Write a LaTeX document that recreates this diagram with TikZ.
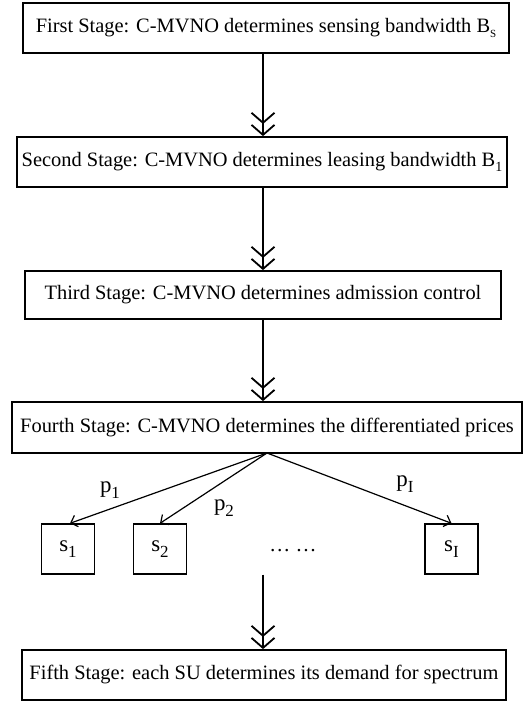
\documentclass[tikz,border=0pt]{standalone}
\usepackage{fontspec}
\setmainfont{Liberation Serif}
\usetikzlibrary{arrows.meta}
\newcommand{\mysub}[2][14]{\raisebox{-0.28em}{\fontsize{#1}{#1}\selectfont #2}}
\tikzset{
  stagebox/.style={draw, line width=1.8bp, minimum height=50bp, inner sep=0pt, font=\fontsize{20.5}{24}\selectfont},
  subbox/.style={draw, line width=1.4bp, minimum width=53bp, minimum height=50bp, inner sep=0pt, font=\fontsize{23}{26}\selectfont},
  dblarrow/.style={line width=1.8bp, -{Straight Barb[length=10bp,width=23bp,line width=1.8bp]Straight Barb[length=10bp,width=23bp,line width=1.8bp]}},
  pricearrow/.style={line width=1.2bp, -{Straight Barb[length=6bp,width=12bp,line width=1.2bp]}},
  plabel/.style={font=\fontsize{23}{26}\selectfont, inner sep=0pt}
}
\begin{document}
\begin{tikzpicture}[x=1bp,y=-1bp]
\useasboundingbox (0,0) rectangle (524,703);
\coordinate (ax) at (263,0);
\node[stagebox, minimum width=486bp] (b1) at (266,28) {First Stage: C-MVNO determines sensing bandwidth B\mysub[11]{S}};
\node[stagebox, minimum width=490bp] (b2) at (262,162) {Second Stage: C-MVNO determines leasing bandwidth B\mysub{1}};
\node[stagebox, minimum width=476bp, minimum height=48bp] (b3) at (263,295) {Third Stage: C-MVNO determines admission control};
\node[stagebox, minimum width=510bp, minimum height=51bp] (b4) at (267,427.5) {Fourth Stage: C-MVNO determines the differentiated prices};
\node[stagebox, minimum width=484bp] (b5) at (264,675) {Fifth Stage: each SU determines its demand for spectrum};
\node[subbox] (s1) at (68,549) {s\mysub[17]{1}};
\node[subbox] (s2) at (160,549) {s\mysub[17]{2}};
\node[subbox] (sI) at (451.5,549) {s\mysub[17]{I}};
\node[font=\fontsize{21}{24}\selectfont] (dots) at (293,551) {\dots\ \dots};
\coordinate (fork) at (267,453);
\draw[dblarrow] (b1.south -| ax) -- (b2.north -| ax);
\draw[dblarrow] (b2.south -| ax) -- (b3.north -| ax);
\draw[dblarrow] (b3.south -| ax) -- (b4.north -| ax);
\draw[dblarrow] (ax |- s1.south) -- (b5.north -| ax);
\draw[pricearrow] (fork) -- ([xshift=2bp]s1.north);
\draw[pricearrow] (fork) -- (s2.north);
\draw[pricearrow] (fork) -- (sI.north);
\node[plabel] (p1) at (110,490) {p\mysub[17]{1}};
\node[plabel] (p2) at (224,508) {p\mysub[17]{2}};
\node[plabel] (pI) at (405,484) {p\mysub[17]{I}};
\end{tikzpicture}
\end{document}
